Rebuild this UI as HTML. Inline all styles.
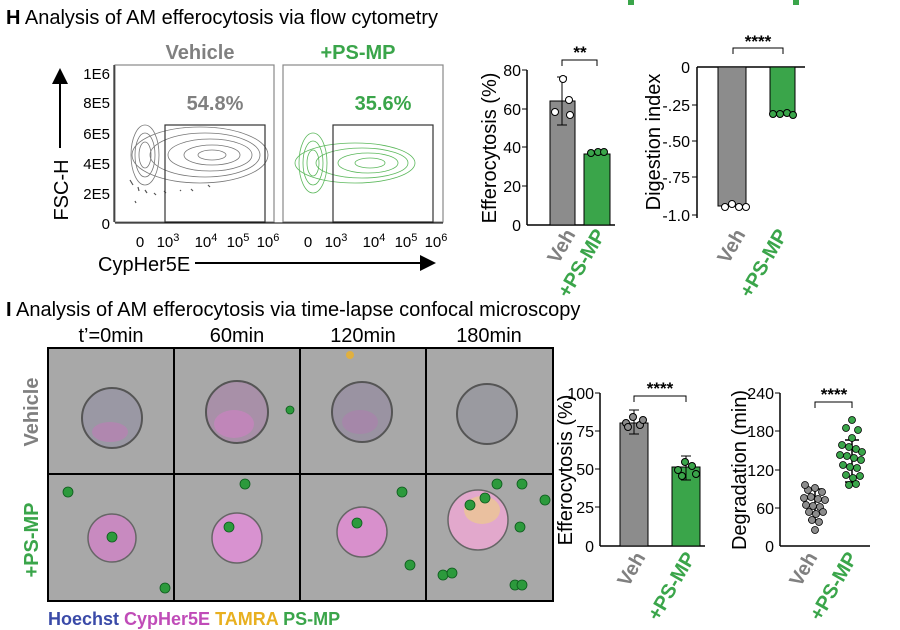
<!DOCTYPE html>
<html><head><meta charset="utf-8"><style>
html,body{margin:0;padding:0;background:#fff}
svg{display:block}
text{font-family:"Liberation Sans",Arial,sans-serif}
</style></head><body>
<svg width="900" height="630" viewBox="0 0 900 630" xmlns="http://www.w3.org/2000/svg">
<defs>
<marker id="ar" markerWidth="8" markerHeight="8" refX="6" refY="4" orient="auto"><path d="M0,0 L8,4 L0,8 z" fill="#000"/></marker>
</defs>
<rect width="900" height="630" fill="#fff"/>
<rect x="628" y="0" width="6" height="5" fill="#3aa54a"/>
<rect x="793" y="0" width="6" height="5" fill="#3aa54a"/>

<text x="6" y="24" font-size="20"><tspan font-weight="bold">H</tspan> Analysis of AM efferocytosis via flow cytometry</text>

<text x="200" y="59" font-size="20" font-weight="bold" fill="#808080" text-anchor="middle">Vehicle</text>
<text x="358" y="59" font-size="20" font-weight="bold" fill="#3aa54a" text-anchor="middle">+PS-MP</text>
<rect x="115" y="65" width="159" height="157" fill="none" stroke="#888" stroke-width="1.2"/>
<rect x="283" y="65" width="160" height="157" fill="none" stroke="#888" stroke-width="1.2"/>
<line x1="114" y1="65" x2="114" y2="222" stroke="#000"/>
<g font-size="15" text-anchor="end">
<text x="110" y="79">1E6</text><text x="110" y="108">8E5</text><text x="110" y="139">6E5</text><text x="110" y="169">4E5</text><text x="110" y="199">2E5</text><text x="110" y="229">0</text>
</g>
<line x1="60" y1="148" x2="60" y2="72" stroke="#000" stroke-width="2" marker-end="url(#ar)"/>
<text transform="translate(68,190) rotate(-90)" font-size="20" text-anchor="middle">FSC-H</text>
<line x1="115" y1="223" x2="443" y2="223" stroke="#000"/>
<g font-size="15" text-anchor="middle">
<text x="140" y="247">0</text><text x="168" y="247">10<tspan font-size="11" dy="-6">3</tspan></text><text x="206" y="247">10<tspan font-size="11" dy="-6">4</tspan></text><text x="238" y="247">10<tspan font-size="11" dy="-6">5</tspan></text><text x="268" y="247">10<tspan font-size="11" dy="-6">6</tspan></text>
<text x="308" y="247">0</text><text x="336" y="247">10<tspan font-size="11" dy="-6">3</tspan></text><text x="374" y="247">10<tspan font-size="11" dy="-6">4</tspan></text><text x="406" y="247">10<tspan font-size="11" dy="-6">5</tspan></text><text x="436" y="247">10<tspan font-size="11" dy="-6">6</tspan></text>
</g>
<text x="98" y="271" font-size="20">CypHer5E</text>
<line x1="195" y1="263" x2="432" y2="263" stroke="#000" stroke-width="2" marker-end="url(#ar)"/>
<g fill="none" stroke="#777" stroke-width="0.8">
<ellipse cx="145" cy="155" rx="14" ry="30"/><ellipse cx="145" cy="155" rx="10" ry="22"/><ellipse cx="145" cy="155" rx="6" ry="13"/>
<ellipse cx="200" cy="155" rx="68" ry="28"/><ellipse cx="205" cy="155" rx="55" ry="22"/><ellipse cx="210" cy="155" rx="42" ry="16"/><ellipse cx="212" cy="155" rx="28" ry="10"/><ellipse cx="212" cy="155" rx="14" ry="5"/>
</g>
<path d="M130 180 l3 5 m5 2 l1 4 m6 -1 l2 3 m-12 8 l1 2 m18 -10 l2 2 m8 -4 l2 2 m14 -3 l1 1 m10 -2 l2 2 m15 -6 l2 2" stroke="#555" stroke-width="1.2"/>
<rect x="165" y="125" width="100" height="97" fill="none" stroke="#333" stroke-width="1.2"/>
<text x="215" y="110" font-size="20" font-weight="bold" fill="#808080" text-anchor="middle">54.8%</text>
<g fill="none" stroke="#5cb85c" stroke-width="0.8">
<ellipse cx="313" cy="163" rx="14" ry="30"/><ellipse cx="313" cy="163" rx="10" ry="22"/><ellipse cx="313" cy="163" rx="6" ry="13"/>
<ellipse cx="355" cy="163" rx="60" ry="20"/><ellipse cx="362" cy="163" rx="46" ry="15"/><ellipse cx="368" cy="163" rx="30" ry="10"/><ellipse cx="370" cy="163" rx="15" ry="5"/>
</g>
<rect x="333" y="125" width="100" height="97" fill="none" stroke="#333" stroke-width="1.2"/>
<text x="383" y="110" font-size="20" font-weight="bold" fill="#3aa54a" text-anchor="middle">35.6%</text>

<line x1="527" y1="70" x2="527" y2="225" stroke="#000" stroke-width="1.5"/>
<line x1="527" y1="225" x2="615" y2="225" stroke="#000" stroke-width="1.5"/>
<g font-size="16" text-anchor="end">
<text x="521" y="76">80</text><text x="521" y="115">60</text><text x="521" y="153">40</text><text x="521" y="192">20</text><text x="521" y="231">0</text>
</g>
<g stroke="#000"><line x1="522" y1="70" x2="527" y2="70"/><line x1="522" y1="109" x2="527" y2="109"/><line x1="522" y1="147" x2="527" y2="147"/><line x1="522" y1="186" x2="527" y2="186"/></g>
<text transform="translate(496,148) rotate(-90)" font-size="20" text-anchor="middle">Efferocytosis (%)</text>
<rect x="550" y="101" width="25" height="124" fill="#8c8c8c" stroke="#000"/>
<rect x="584" y="154" width="26" height="71" fill="#3aa54a" stroke="#000"/>
<path d="M562 77 V125 M557 77 h10 M557 125 h10" stroke="#000"/>
<g fill="#fff" stroke="#000"><circle cx="563" cy="79" r="3.5"/><circle cx="555" cy="112" r="3.5"/><circle cx="569" cy="100" r="3.5"/><circle cx="570" cy="115" r="3.5"/>
<circle cx="591" cy="153" r="3.5" fill="#3aa54a"/><circle cx="598" cy="152" r="3.5" fill="#3aa54a"/><circle cx="604" cy="152" r="3.5" fill="#3aa54a"/></g>
<path d="M562 66 V60 H597 V66" fill="none" stroke="#000"/>
<text x="580" y="58" font-size="17" font-weight="bold" text-anchor="middle">**</text>
<text transform="translate(576,234) rotate(-60)" font-size="20" font-weight="bold" fill="#808080" text-anchor="end">Veh</text>
<text transform="translate(606,234) rotate(-60)" font-size="20" font-weight="bold" fill="#3aa54a" text-anchor="end">+PS-MP</text>

<line x1="697" y1="67" x2="697" y2="218" stroke="#000" stroke-width="1.5"/>
<line x1="697" y1="67" x2="805" y2="67" stroke="#000" stroke-width="1.5"/>
<g font-size="16" text-anchor="end">
<text x="690" y="73">0</text><text x="690" y="111">-.25</text><text x="690" y="147">-.50</text><text x="690" y="183">-.75</text><text x="690" y="221">-1.0</text>
</g>
<g stroke="#000"><line x1="692" y1="105" x2="697" y2="105"/><line x1="692" y1="141" x2="697" y2="141"/><line x1="692" y1="177" x2="697" y2="177"/><line x1="692" y1="215" x2="697" y2="215"/></g>
<text transform="translate(660,142) rotate(-90)" font-size="20" text-anchor="middle">Digestion index</text>
<rect x="718" y="67" width="28" height="139" fill="#8c8c8c" stroke="#000"/>
<rect x="770" y="67" width="25" height="46" fill="#3aa54a" stroke="#000"/>
<g fill="#fff" stroke="#000"><circle cx="725" cy="207" r="3.5"/><circle cx="732" cy="204" r="3.5"/><circle cx="739" cy="207" r="3.5"/><circle cx="746" cy="207" r="3.5"/>
<circle cx="773" cy="114" r="3.5" fill="#3aa54a"/><circle cx="780" cy="114" r="3.5" fill="#3aa54a"/><circle cx="787" cy="113" r="3.5" fill="#3aa54a"/><circle cx="793" cy="115" r="3.5" fill="#3aa54a"/></g>
<path d="M733 54 V48 H783 V54" fill="none" stroke="#000"/>
<text x="758" y="47" font-size="17" font-weight="bold" text-anchor="middle">****</text>
<text transform="translate(746,234) rotate(-60)" font-size="20" font-weight="bold" fill="#808080" text-anchor="end">Veh</text>
<text transform="translate(788,234) rotate(-60)" font-size="20" font-weight="bold" fill="#3aa54a" text-anchor="end">+PS-MP</text>

<text x="6" y="316" font-size="20"><tspan font-weight="bold">I</tspan> Analysis of AM efferocytosis via time-lapse confocal microscopy</text>
<g font-size="20" text-anchor="middle"><text x="111" y="342">t’=0min</text><text x="237" y="342">60min</text><text x="363" y="342">120min</text><text x="489" y="342">180min</text></g>
<rect x="48" y="348" width="505" height="253" fill="#a8a8a8"/>
<g fill="none" stroke="#000" stroke-width="2"><rect x="48" y="348" width="505" height="253"/><line x1="174" y1="348" x2="174" y2="601"/><line x1="300" y1="348" x2="300" y2="601"/><line x1="426" y1="348" x2="426" y2="601"/><line x1="48" y1="474" x2="553" y2="474"/></g>
<g stroke="#555" stroke-width="2">
<circle cx="112" cy="418" r="30" fill="#9a98a4"/><circle cx="237" cy="412" r="31" fill="#a890a8"/><circle cx="362" cy="412" r="30" fill="#9a93a2"/><circle cx="487" cy="414" r="30" fill="#9a9aa0"/>
</g>
<ellipse cx="110" cy="432" rx="18" ry="10" fill="#c07cb8" opacity="0.6"/>
<ellipse cx="234" cy="424" rx="20" ry="14" fill="#d080c4" opacity="0.6"/>
<ellipse cx="360" cy="422" rx="18" ry="12" fill="#b07cb0" opacity="0.5"/>
<g stroke="#666" stroke-width="1.5">
<circle cx="112" cy="538" r="24" fill="#c88ac0"/><circle cx="237" cy="538" r="25" fill="#d892d0"/><circle cx="362" cy="532" r="25" fill="#d890cc"/><circle cx="478" cy="520" r="30" fill="#e2a8cc"/>
</g>
<ellipse cx="482" cy="510" rx="18" ry="14" fill="#f0d080" opacity="0.6"/>
<g fill="#2c9a3c" stroke="#0c5a1c" stroke-width="0.8">
<circle cx="112" cy="537" r="5"/><circle cx="229" cy="527" r="5"/><circle cx="357" cy="523" r="5"/><circle cx="470" cy="505" r="5"/><circle cx="485" cy="498" r="5"/>
<circle cx="68" cy="492" r="5"/><circle cx="245" cy="484" r="5"/><circle cx="402" cy="492" r="5"/><circle cx="497" cy="484" r="5"/><circle cx="522" cy="484" r="5"/>
<circle cx="520" cy="527" r="5"/><circle cx="443" cy="575" r="5"/><circle cx="452" cy="573" r="5"/><circle cx="515" cy="585" r="5"/><circle cx="522" cy="585" r="5"/><circle cx="165" cy="588" r="5"/><circle cx="545" cy="500" r="5"/>
<circle cx="410" cy="565" r="5"/><circle cx="290" cy="410" r="4"/><circle cx="350" cy="355" r="4" fill="#e0b040" stroke="none"/>
</g>
<text transform="translate(38,412) rotate(-90)" font-size="20" font-weight="bold" fill="#808080" text-anchor="middle">Vehicle</text>
<text transform="translate(38,540) rotate(-90)" font-size="20" font-weight="bold" fill="#3aa54a" text-anchor="middle">+PS-MP</text>
<text x="48" y="625" font-size="18" font-weight="bold"><tspan fill="#3a4aa8">Hoechst</tspan> <tspan fill="#c04cb8">CypHer5E</tspan> <tspan fill="#e8b020">TAMRA</tspan> <tspan fill="#3aa54a">PS-MP</tspan></text>

<line x1="600" y1="393" x2="600" y2="546" stroke="#000" stroke-width="1.5"/>
<line x1="600" y1="546" x2="705" y2="546" stroke="#000" stroke-width="1.5"/>
<g font-size="16" text-anchor="end"><text x="594" y="399">100</text><text x="594" y="437">75</text><text x="594" y="475">50</text><text x="594" y="513">25</text><text x="594" y="552">0</text></g>
<g stroke="#000"><line x1="595" y1="393" x2="600" y2="393"/><line x1="595" y1="431" x2="600" y2="431"/><line x1="595" y1="469" x2="600" y2="469"/><line x1="595" y1="507" x2="600" y2="507"/></g>
<text transform="translate(572,470) rotate(-90)" font-size="20" text-anchor="middle">Efferocytosis (%)</text>
<rect x="620" y="423" width="28" height="123" fill="#8c8c8c" stroke="#000"/>
<rect x="672" y="467" width="28" height="79" fill="#3aa54a" stroke="#000"/>
<path d="M634 410 V434 M629 410 h10 M629 434 h10 M686 456 V480 M681 456 h10 M681 480 h10" stroke="#000"/>
<g stroke="#000" fill="#8c8c8c"><circle cx="626" cy="423" r="3.5"/><circle cx="633" cy="417" r="3.5"/><circle cx="640" cy="425" r="3.5"/><circle cx="628" cy="427" r="3.5"/><circle cx="643" cy="420" r="3.5"/>
<g fill="#3aa54a"><circle cx="678" cy="470" r="3.5"/><circle cx="685" cy="462" r="3.5"/><circle cx="692" cy="466" r="3.5"/><circle cx="696" cy="474" r="3.5"/><circle cx="682" cy="476" r="3.5"/></g></g>
<path d="M634 402 V396 H686 V402" fill="none" stroke="#000"/>
<text x="660" y="394" font-size="17" font-weight="bold" text-anchor="middle">****</text>
<text transform="translate(646,557) rotate(-60)" font-size="20" font-weight="bold" fill="#808080" text-anchor="end">Veh</text>
<text transform="translate(696,557) rotate(-60)" font-size="20" font-weight="bold" fill="#3aa54a" text-anchor="end">+PS-MP</text>

<line x1="780" y1="393" x2="780" y2="546" stroke="#000" stroke-width="1.5"/>
<line x1="780" y1="546" x2="870" y2="546" stroke="#000" stroke-width="1.5"/>
<g font-size="16" text-anchor="end"><text x="774" y="399">240</text><text x="774" y="437">180</text><text x="774" y="476">120</text><text x="774" y="514">60</text><text x="774" y="552">0</text></g>
<g stroke="#000"><line x1="775" y1="393" x2="780" y2="393"/><line x1="775" y1="431" x2="780" y2="431"/><line x1="775" y1="470" x2="780" y2="470"/><line x1="775" y1="508" x2="780" y2="508"/></g>
<text transform="translate(746,470) rotate(-90)" font-size="20" text-anchor="middle">Degradation (min)</text>
<path d="M815 489 V520 M808 489 h14 M808 520 h14 M852 440 V482 M845 440 h14 M845 482 h14" stroke="#000" stroke-width="1.5"/>
<g stroke="#000" stroke-width="0.8" fill="#8c8c8c">
<circle cx="808" cy="490" r="3.5"/><circle cx="815" cy="488" r="3.5"/><circle cx="822" cy="492" r="3.5"/><circle cx="804" cy="498" r="3.5"/><circle cx="811" cy="497" r="3.5"/><circle cx="818" cy="499" r="3.5"/><circle cx="825" cy="500" r="3.5"/><circle cx="806" cy="505" r="3.5"/><circle cx="813" cy="506" r="3.5"/><circle cx="820" cy="507" r="3.5"/><circle cx="809" cy="512" r="3.5"/><circle cx="816" cy="514" r="3.5"/><circle cx="823" cy="512" r="3.5"/><circle cx="812" cy="520" r="3.5"/><circle cx="819" cy="522" r="3.5"/><circle cx="815" cy="530" r="3.5"/><circle cx="805" cy="485" r="3.5"/>
<g fill="#3aa54a"><circle cx="852" cy="420" r="3.5"/><circle cx="846" cy="428" r="3.5"/><circle cx="858" cy="430" r="3.5"/><circle cx="842" cy="445" r="3.5"/><circle cx="849" cy="447" r="3.5"/><circle cx="856" cy="449" r="3.5"/><circle cx="862" cy="452" r="3.5"/><circle cx="840" cy="455" r="3.5"/><circle cx="847" cy="456" r="3.5"/><circle cx="854" cy="458" r="3.5"/><circle cx="861" cy="460" r="3.5"/><circle cx="843" cy="465" r="3.5"/><circle cx="850" cy="467" r="3.5"/><circle cx="857" cy="468" r="3.5"/><circle cx="846" cy="475" r="3.5"/><circle cx="853" cy="478" r="3.5"/><circle cx="860" cy="476" r="3.5"/><circle cx="849" cy="485" r="3.5"/><circle cx="856" cy="484" r="3.5"/><circle cx="852" cy="438" r="3.5"/></g></g>
<path d="M815 408 V402 H852 V408" fill="none" stroke="#000"/>
<text x="834" y="400" font-size="17" font-weight="bold" text-anchor="middle">****</text>
<text transform="translate(818,557) rotate(-60)" font-size="20" font-weight="bold" fill="#808080" text-anchor="end">Veh</text>
<text transform="translate(858,557) rotate(-60)" font-size="20" font-weight="bold" fill="#3aa54a" text-anchor="end">+PS-MP</text>
</svg>
</body></html>
